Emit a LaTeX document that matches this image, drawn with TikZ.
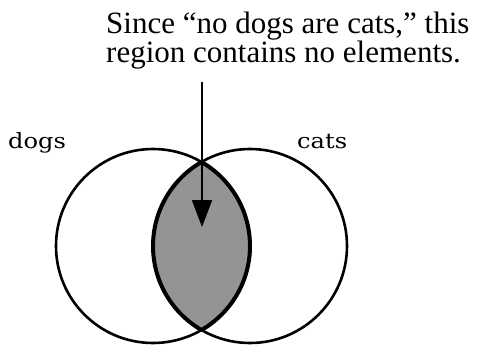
\documentclass[tikz,border=0pt]{standalone}
\usepackage{fontspec}
\setmainfont{Liberation Serif}
\newfontfamily\labelfont[FakeStretch=1.15]{DejaVu Serif}
\usepackage{tikz}
\usetikzlibrary{arrows.meta}

\begin{document}
\begin{tikzpicture}[
  x=1pt, y=-1pt,
  set/.style={circle, draw, line width=2.6pt, minimum size=194pt,
              inner sep=0pt},
  lens/.style={fill=black!42},
  setlabel/.style={font=\labelfont\fontsize{21}{21}\selectfont,
                   anchor=base west, inner sep=0pt},
  note/.style={font=\fontsize{31}{26}\selectfont, align=left,
               anchor=north west, inner sep=0pt},
  arr/.style={-{Triangle[length=27pt,width=20pt]}, line width=2pt},
]
\useasboundingbox (0,0) rectangle (484,345);

% shaded overlap (no dogs are cats)
\begin{scope}
  \clip (153,246) circle[radius=97pt];
  \fill[lens] (250,246) circle[radius=97pt];
  \draw[line width=4pt] (250,246) circle[radius=97pt];
\end{scope}
\begin{scope}
  \clip (250,246) circle[radius=97pt];
  \draw[line width=4pt] (153,246) circle[radius=97pt];
\end{scope}

% the two sets
\node[set] (dogs) at (153,246) {};
\node[set] (cats) at (250,246) {};

% labels
\node[setlabel] (dogslbl) at (8,148) {dogs};
\node[setlabel] (catslbl) at (297,148) {cats};

% explanation
\node[note] (expl) at (106,12) {Since “no dogs are cats,” this\\region contains no elements.};

% arrow into the overlap
\coordinate (start) at (202,82);
\coordinate (tip) at (202,227);
\draw[arr] (start) -- (tip);

\end{tikzpicture}
\end{document}
